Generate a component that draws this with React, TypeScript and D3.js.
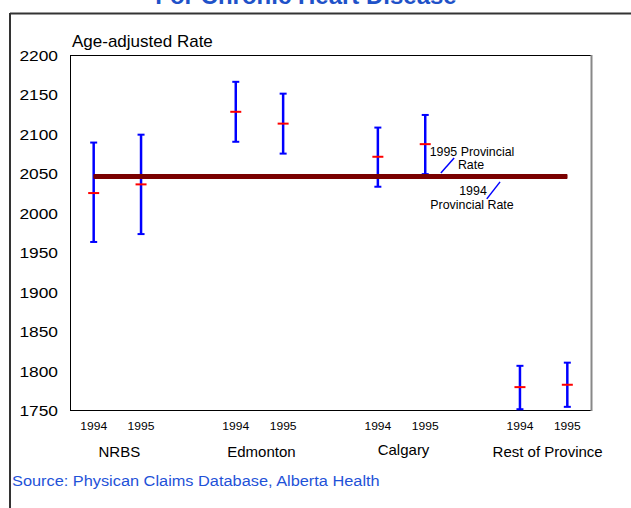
import React from "react";
import * as d3 from "d3";

const groups = ["NRBS", "Edmonton", "Calgary", "Rest of Province"];
const years = ["1994", "1995"];
// per bar: [group index, year index]
const means = [2025, 2036, 2128, 2113, 2071, 2087, 1779, 1782];
const upper = [2089, 2099, 2166, 2151, 2108, 2124, 1806, 1810];
const lower = [1963, 1973, 2090, 2075, 2033, 2049, 1751, 1754];
const provincialRate1994 = 2045.5;
const provincialRate1995 = 2046.5;
const yTicks = [1750, 1800, 1850, 1900, 1950, 2000, 2050, 2100, 2150, 2200];

const W = 631;
const H = 508;
const plot = { left: 70, right: 591, top: 55, bottom: 410 };
const FONT = "'Liberation Sans', Arial, sans-serif";

export default function App() {
  const y = d3.scaleLinear().domain([1750, 2200]).range([plot.bottom, plot.top]);
  const x = d3.scaleLinear().domain([-0.5, 10.5]).range([plot.left, plot.right]);
  const slot = (gi: number, yi: number) => gi * 3 + yi;
  const bars = means.map((m, i) => {
    const gi = Math.floor(i / 2);
    const yi = i % 2;
    return { gi, yi, m, hi: upper[i], lo: lower[i], cx: x(slot(gi, yi)) };
  });
  const lineX0 = x(0);
  const lineX1 = x(10);

  return (
    <svg
      width={W}
      height={H}
      style={{ position: "absolute", left: 0, top: 0, background: "#fff" }}
      fontFamily={FONT}
    >
      <rect x={0} y={0} width={W} height={H} fill="#fff" />
      {/* title (cut off at the top, as in the original) */}
      <text x={306} y={4} textAnchor="middle" fontSize={24} fontWeight="bold" fill="#1f52c8">
        For Chronic Heart Disease
      </text>
      {/* outer frame */}
      <line x1={10} x2={W} y1={13.5} y2={13.5} stroke="#333" strokeWidth={2} />
      <line x1={10} x2={10} y1={13} y2={H} stroke="#333" strokeWidth={2} />

      {/* plot frame */}
      <line x1={plot.left} x2={plot.right} y1={plot.top + 0.5} y2={plot.top + 0.5} stroke="#000" strokeWidth={1} />
      <line x1={plot.left + 0.5} x2={plot.left + 0.5} y1={plot.top} y2={plot.bottom} stroke="#000" strokeWidth={1} />
      <line x1={plot.left} x2={plot.right} y1={plot.bottom + 0.5} y2={plot.bottom + 0.5} stroke="#000" strokeWidth={1} />
      <line x1={plot.right + 0.5} x2={plot.right + 0.5} y1={plot.top} y2={plot.bottom + 1} stroke="#888" strokeWidth={2} />

      {/* y tick labels */}
      {yTicks.map((t) => (
        <text
          key={t}
          transform={`translate(58,${y(t) + 6}) scale(1.12,1)`}
          textAnchor="end"
          fontSize={15.5}
          fill="#000"
        >
          {t}
        </text>
      ))}
      <text x={72} y={47} fontSize={17} fill="#000">
        Age-adjusted Rate
      </text>

      {/* error bars */}
      {bars.map((b, i) => (
        <g key={i}>
          <line x1={b.cx} x2={b.cx} y1={y(b.hi)} y2={y(b.lo)} stroke="#0000ff" strokeWidth={2.5} />
          <line x1={b.cx - 3.5} x2={b.cx + 3.5} y1={y(b.hi)} y2={y(b.hi)} stroke="#0000ff" strokeWidth={2} />
          <line x1={b.cx - 3.5} x2={b.cx + 3.5} y1={y(b.lo)} y2={y(b.lo)} stroke="#0000ff" strokeWidth={2} />
          <line x1={b.cx - 5.5} x2={b.cx + 5.5} y1={y(b.m)} y2={y(b.m)} stroke="#ff0000" strokeWidth={2} />
        </g>
      ))}

      {/* provincial rates */}
      <line x1={lineX0} x2={lineX1} y1={y(provincialRate1994)} y2={y(provincialRate1994)} stroke="#7a0000" strokeWidth={4} />
      <line x1={lineX0} x2={lineX1} y1={y(provincialRate1995)} y2={y(provincialRate1995)} stroke="#7a0000" strokeWidth={4} />

      {/* annotations */}
      <text x={472} y={155.5} textAnchor="middle" fontSize={12.4} fill="#000">1995 Provincial</text>
      <text x={471} y={169} textAnchor="middle" fontSize={12.4} fill="#000">Rate</text>
      <line
        x1={x(7.33)} y1={y(provincialRate1995) - 3}
        x2={x(7.61)} y2={y(provincialRate1995) - 18}
        stroke="#0000ff" strokeWidth={1.5}
      />
      <text x={473} y={195} textAnchor="middle" fontSize={12.4} fill="#000">1994</text>
      <text x={472} y={209} textAnchor="middle" fontSize={12.4} fill="#000">Provincial Rate</text>
      <line
        x1={x(8.3)} y1={y(provincialRate1994) + 22}
        x2={x(8.58)} y2={y(provincialRate1994) + 5}
        stroke="#0000ff" strokeWidth={1.5}
      />

      {/* x labels */}
      {bars.map((b, i) => (
        <text
          key={"yl" + i}
          transform={`translate(${b.cx},429.5) scale(1.12,1)`}
          textAnchor="middle"
          fontSize={10.8}
          fill="#000"
        >
          {years[b.yi]}
        </text>
      ))}
      {groups.map((g, gi) => (
        <text
          key={g}
          x={(x(slot(gi, 0)) + x(slot(gi, 1))) / 2 + (g === "Rest of Province" ? 4 : 2)}
          y={g === "Calgary" ? 455 : 456.5}
          textAnchor="middle"
          fontSize={15}
          fill="#000"
        >
          {g}
        </text>
      ))}

      <text x={12} y={486} fontSize={15} fill="#1f52d8" transform="translate(12,486) scale(1.09,1) translate(-12,-486)">
        Source: Physican Claims Database, Alberta Health
      </text>
    </svg>
  );
}
